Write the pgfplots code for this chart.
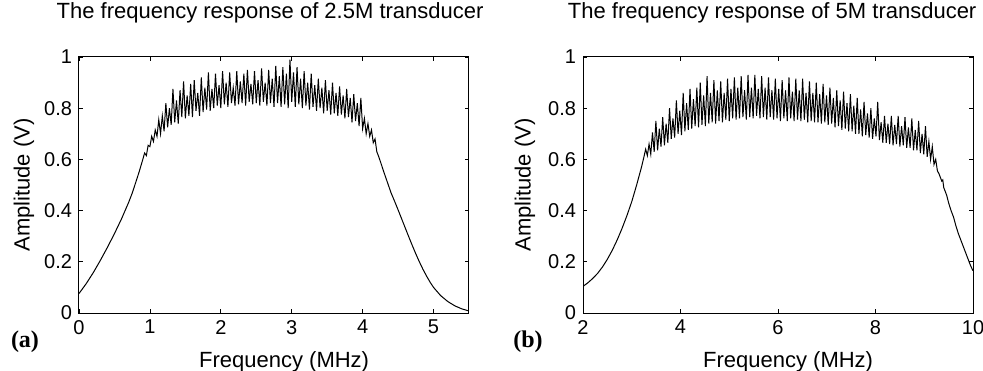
\documentclass[border=0pt]{standalone}
\usepackage{pgfplots}
\pgfplotsset{compat=1.18}
\usepackage{fontspec}
\setmainfont{Liberation Sans}
\newfontfamily\serifb{Liberation Serif}
\begin{document}
\begin{tikzpicture}
\path[use as bounding box] (0,0) rectangle (491.5pt,185pt);
\pgfplotsset{
  every axis/.append style={
    scale only axis, width=195pt, height=128pt,
    ymin=0, ymax=1, ytick={0,0.2,0.4,0.6,0.8,1},
    tick align=inside, major tick length=2pt,
    axis line style={line width=0.5pt},
    every tick/.style={black, line width=0.4pt},
    /pgf/number format/assume math mode=true,
    tick label style={font=\fontsize{10}{12}\selectfont},
    label style={font=\fontsize{11}{13}\selectfont},
    title style={font=\fontsize{11}{13}\selectfont, anchor=center},
    enlargelimits=false,
  }
}
\begin{axis}[
  at={(39.5pt,28.5pt)}, anchor=south west,
  xmin=0, xmax=5.5, xtick={0,1,2,3,4,5},
  title={The frequency response of 2.5M transducer},
  title style={at={(axis description cs:0.49,1.125)}},
  xlabel={Frequency (MHz)},
  xlabel style={at={(axis description cs:0.526,-0.19)}, anchor=center},
  ylabel={Amplitude (V)},
  ylabel style={at={(axis description cs:-0.141,0.5)}, anchor=center},
]
\addplot[black, line width=0.5pt] table {
x y
0.000 0.076
0.100 0.114
0.200 0.157
0.300 0.205
0.400 0.256
0.500 0.310
0.600 0.368
0.700 0.432
0.750 0.468
0.800 0.510
0.850 0.553
0.900 0.600
0.925 0.625
0.950 0.615
0.975 0.655
1.000 0.650
1.025 0.690
1.050 0.670
1.075 0.715
1.100 0.690
1.125 0.755
1.150 0.700
1.175 0.770
1.200 0.710
1.225 0.820
1.250 0.725
1.275 0.800
1.300 0.735
1.325 0.875
1.350 0.745
1.375 0.830
1.400 0.740
1.425 0.870
1.450 0.765
1.475 0.905
1.500 0.760
1.525 0.850
1.550 0.770
1.575 0.895
1.600 0.765
1.625 0.910
1.650 0.790
1.675 0.860
1.700 0.770
1.725 0.920
1.750 0.785
1.775 0.880
1.800 0.795
1.825 0.940
1.850 0.790
1.875 0.875
1.900 0.800
1.925 0.935
1.950 0.810
1.975 0.890
2.000 0.800
2.025 0.945
2.050 0.815
2.075 0.900
2.100 0.805
2.125 0.940
2.150 0.820
2.175 0.880
2.200 0.810
2.225 0.945
2.250 0.815
2.275 0.905
2.300 0.820
2.325 0.935
2.350 0.810
2.375 0.950
2.400 0.825
2.425 0.895
2.450 0.815
2.475 0.945
2.500 0.820
2.525 0.910
2.550 0.810
2.575 0.955
2.600 0.825
2.625 0.900
2.650 0.810
2.675 0.950
2.700 0.820
2.725 0.915
2.750 0.805
2.775 0.965
2.800 0.820
2.825 0.925
2.850 0.805
2.875 0.960
2.900 0.815
2.925 0.935
2.950 0.800
2.975 0.990
3.000 0.825
3.025 0.940
3.050 0.805
3.075 0.960
3.100 0.815
3.125 0.915
3.150 0.800
3.175 0.945
3.200 0.810
3.225 0.900
3.250 0.795
3.275 0.935
3.300 0.805
3.325 0.890
3.350 0.790
3.375 0.915
3.400 0.800
3.425 0.880
3.450 0.780
3.475 0.910
3.500 0.790
3.525 0.870
3.550 0.775
3.575 0.900
3.600 0.780
3.625 0.860
3.650 0.770
3.675 0.885
3.700 0.775
3.725 0.850
3.750 0.760
3.775 0.875
3.800 0.765
3.825 0.840
3.850 0.745
3.875 0.855
3.900 0.750
3.925 0.820
3.950 0.730
3.975 0.840
4.000 0.720
4.025 0.760
4.050 0.700
4.075 0.740
4.100 0.690
4.125 0.715
4.150 0.665
4.175 0.680
4.200 0.630
4.225 0.612
4.250 0.592
4.300 0.550
4.350 0.510
4.400 0.470
4.450 0.437
4.500 0.403
4.550 0.368
4.600 0.333
4.650 0.298
4.700 0.264
4.750 0.231
4.800 0.200
4.850 0.171
4.900 0.145
4.950 0.121
5.000 0.100
5.100 0.068
5.200 0.045
5.300 0.028
5.400 0.016
5.500 0.008
};
\end{axis}
\begin{axis}[
  at={(291.5pt,28.5pt)}, anchor=south west,
  xmin=2, xmax=10, xtick={2,4,6,8,10},
  title={The frequency response of 5M transducer},
  title style={at={(axis description cs:0.485,1.125)}},
  xlabel={Frequency (MHz)},
  xlabel style={at={(axis description cs:0.526,-0.19)}, anchor=center},
  ylabel={Amplitude (V)},
  ylabel style={at={(axis description cs:-0.149,0.5)}, anchor=center},
]
\addplot[black, line width=0.5pt] table {
x y
2.000 0.104
2.100 0.118
2.200 0.135
2.300 0.155
2.400 0.180
2.500 0.210
2.600 0.245
2.700 0.285
2.800 0.330
2.900 0.380
3.000 0.435
3.100 0.500
3.150 0.535
3.200 0.570
3.225 0.590
3.250 0.610
3.285 0.640
3.320 0.615
3.355 0.660
3.390 0.620
3.425 0.705
3.460 0.630
3.495 0.750
3.530 0.635
3.565 0.720
3.600 0.650
3.635 0.765
3.670 0.655
3.705 0.740
3.740 0.665
3.775 0.800
3.810 0.680
3.845 0.760
3.880 0.685
3.915 0.830
3.950 0.700
3.985 0.790
4.020 0.695
4.055 0.860
4.090 0.710
4.125 0.820
4.160 0.715
4.195 0.875
4.230 0.720
4.265 0.835
4.300 0.730
4.335 0.880
4.370 0.725
4.405 0.900
4.440 0.735
4.475 0.850
4.510 0.730
4.545 0.925
4.580 0.740
4.615 0.860
4.650 0.745
4.685 0.910
4.720 0.740
4.755 0.870
4.790 0.750
4.825 0.905
4.860 0.745
4.895 0.860
4.930 0.755
4.965 0.915
5.000 0.750
5.035 0.875
5.070 0.760
5.105 0.920
5.140 0.755
5.175 0.880
5.210 0.760
5.245 0.925
5.280 0.765
5.315 0.870
5.350 0.755
5.385 0.930
5.420 0.765
5.455 0.880
5.490 0.760
5.525 0.930
5.560 0.770
5.595 0.875
5.630 0.760
5.665 0.925
5.700 0.765
5.735 0.880
5.770 0.755
5.805 0.920
5.840 0.765
5.875 0.870
5.910 0.755
5.945 0.915
5.980 0.760
6.015 0.875
6.050 0.750
6.085 0.910
6.120 0.760
6.155 0.870
6.190 0.750
6.225 0.920
6.260 0.760
6.295 0.865
6.330 0.750
6.365 0.915
6.400 0.755
6.435 0.870
6.470 0.750
6.505 0.915
6.540 0.755
6.575 0.860
6.610 0.745
6.645 0.905
6.680 0.750
6.715 0.860
6.750 0.745
6.785 0.900
6.820 0.745
6.855 0.855
6.890 0.740
6.925 0.895
6.960 0.745
6.995 0.850
7.030 0.735
7.065 0.880
7.100 0.740
7.135 0.840
7.170 0.725
7.205 0.870
7.240 0.730
7.275 0.830
7.310 0.715
7.345 0.865
7.380 0.720
7.415 0.820
7.450 0.710
7.485 0.855
7.520 0.710
7.555 0.810
7.590 0.700
7.625 0.840
7.660 0.700
7.695 0.795
7.730 0.690
7.765 0.825
7.800 0.695
7.835 0.780
7.870 0.685
7.905 0.800
7.940 0.680
7.975 0.760
8.010 0.690
8.045 0.825
8.080 0.675
8.115 0.745
8.150 0.665
8.185 0.770
8.220 0.665
8.255 0.740
8.290 0.660
8.325 0.770
8.360 0.655
8.395 0.735
8.430 0.660
8.465 0.770
8.500 0.650
8.535 0.730
8.570 0.655
8.605 0.765
8.640 0.645
8.675 0.725
8.710 0.645
8.745 0.760
8.780 0.635
8.815 0.715
8.850 0.635
8.885 0.750
8.920 0.625
8.955 0.700
8.990 0.620
9.025 0.730
9.060 0.610
9.095 0.670
9.130 0.600
9.165 0.650
9.200 0.580
9.235 0.600
9.270 0.555
9.300 0.545
9.330 0.530
9.360 0.515
9.380 0.520
9.400 0.490
9.430 0.475
9.460 0.460
9.500 0.430
9.550 0.400
9.600 0.375
9.650 0.340
9.700 0.310
9.750 0.285
9.800 0.260
9.850 0.235
9.900 0.210
9.950 0.185
10.000 0.165
};
\end{axis}
\node[font=\serifb\bfseries\fontsize{12}{14}\selectfont] at (12.5pt,14pt) {(a)};
\node[font=\serifb\bfseries\fontsize{12}{14}\selectfont] at (264pt,14pt) {(b)};
\end{tikzpicture}
\end{document}
